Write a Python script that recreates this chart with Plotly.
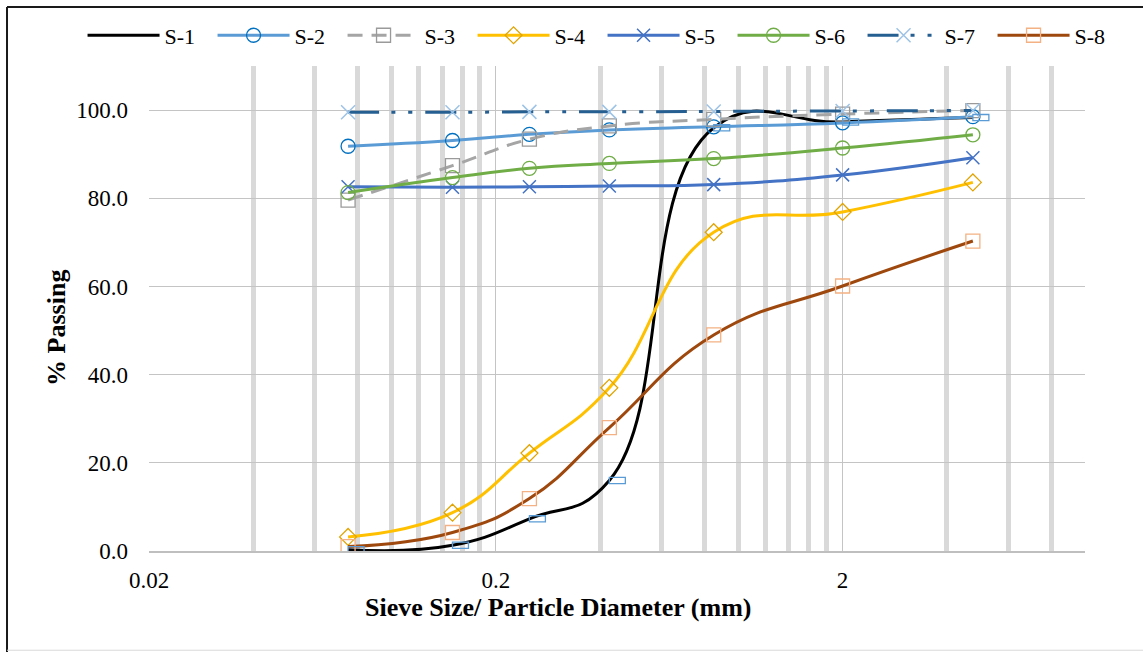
import plotly.graph_objects as go

# Sieve sizes (mm) and % passing for each sample
sieve_mm = [0.075, 0.15, 0.25, 0.425, 0.85, 2.0, 4.75]

s1 = [0.3, 1.3, 7.3, 16.0, 96.0, 97.3, 98.3]
s2 = [91.8, 93.1, 94.5, 95.5, 96.2, 97.1, 98.5]
s3 = [79.6, 87.4, 93.4, 96.4, 97.9, 99.1, 99.9]
s4 = [3.2, 8.7, 22.2, 37.0, 72.3, 76.9, 83.6]
s5 = [82.6, 82.5, 82.6, 82.8, 83.1, 85.3, 89.2]
s6 = [81.3, 84.7, 86.8, 87.9, 89.0, 91.4, 94.4]
s7 = [99.5, 99.5, 99.6, 99.6, 99.7, 99.8, 99.9]
s8 = [1.0, 4.2, 11.9, 28.0, 49.0, 60.1, 70.3]

names = ["S-1", "S-2", "S-3", "S-4", "S-5", "S-6", "S-7", "S-8"]

x_ticks = [0.02, 0.2, 2]
x_tick_text = ["0.02", "0.2", "2"]
x_minor = [0.04, 0.06, 0.08, 0.10, 0.12, 0.14, 0.16, 0.18,
           0.4, 0.6, 0.8, 1.0, 1.2, 1.4, 1.6, 1.8,
           4, 6, 8, 10]
y_ticks = [0, 20, 40, 60, 80, 100]

SERIF = "Liberation Serif, Times New Roman, serif"

styles = {
    "S-1": dict(line=dict(color="#000000", width=3), marker=None),
    "S-2": dict(line=dict(color="#5b9bd5", width=3),
                marker=dict(symbol="circle-open", size=14, color="#0070c0", line=dict(width=1.3))),
    "S-3": dict(line=dict(color="#a5a5a5", width=3, dash="15px,9px"),
                marker=dict(symbol="square-open", size=14, color="#9a9a9a", line=dict(width=1.3))),
    "S-4": dict(line=dict(color="#ffc000", width=3),
                marker=dict(symbol="diamond-open", size=13, color="#e0a300", line=dict(width=1.3))),
    "S-5": dict(line=dict(color="#4472c4", width=3),
                marker=dict(symbol="x-thin-open", size=13, color="#4472c4", line=dict(width=1.5))),
    "S-6": dict(line=dict(color="#70ad47", width=3),
                marker=dict(symbol="circle-open", size=14, color="#70ad47", line=dict(width=1.3))),
    "S-7": dict(line=dict(color="#255e91", width=3, dash="31px,12px,4px,13px,4px,13px"),
                marker=dict(symbol="x-thin-open", size=14, color="#9dc3e6", line=dict(width=1.5))),
    "S-8": dict(line=dict(color="#9e480e", width=3),
                marker=dict(symbol="square-open", size=14, color="#f4b183", line=dict(width=1.3))),
}

fig = go.Figure()
for name, vals in zip(names, [s1, s2, s3, s4, s5, s6, s7, s8]):
    st = styles[name]
    line = dict(st["line"], shape="spline", smoothing=1.3)
    if st["marker"] is None:
        fig.add_trace(go.Scatter(x=sieve_mm, y=vals, name=name, mode="lines", line=line))
    else:
        fig.add_trace(go.Scatter(x=sieve_mm, y=vals, name=name, mode="lines+markers",
                                 line=line, marker=st["marker"]))

# S-1 uses dash-style markers, drawn as small outlined bars starting at each point
dash_len = 10 ** (16 / 347)
for xv, yv in zip(sieve_mm, s1):
    fig.add_shape(type="rect", xref="x", yref="y",
                  x0=xv, x1=xv * dash_len, y0=yv - 0.7, y1=yv + 0.7,
                  line=dict(color="#5b9bd5", width=1.3), fillcolor="rgba(0,0,0,0)")

# chart frame
fig.add_shape(type="line", xref="paper", yref="paper", x0=-0.1517, x1=-0.1517, y0=-0.21, y1=1.1216,
              line=dict(color="#1a1a1a", width=2))
fig.add_shape(type="line", xref="paper", yref="paper", x0=-0.1517, x1=1.07, y0=1.1216, y1=1.1216,
              line=dict(color="#1a1a1a", width=2))
fig.add_shape(type="line", xref="paper", yref="paper", x0=-0.1517, x1=1.07, y0=-0.2046, y1=-0.2046,
              line=dict(color="#d9d9d9", width=1))

fig.add_annotation(text="<b>% Passing</b>", xref="paper", yref="paper", x=-0.0983, y=0.46,
                   xanchor="center", yanchor="middle",
                   textangle=-90, showarrow=False, font=dict(family=SERIF, size=26, color="#000"))
fig.add_annotation(text="<b>Sieve Size/ Particle Diameter (mm)</b>", xref="paper", yref="paper",
                   x=0.437, y=-0.1175, xanchor="center", yanchor="middle",
                   showarrow=False, font=dict(family=SERIF, size=26, color="#000"))

fig.update_layout(
    width=1143, height=652,
    margin=dict(l=149, r=58, t=66, b=101),
    paper_bgcolor="white", plot_bgcolor="white",
    font=dict(family=SERIF, size=21, color="#000"),
    showlegend=True,
    legend=dict(orientation="h", x=-0.071, xanchor="left", y=1.063, yanchor="middle",
                font=dict(family=SERIF, size=22, color="#000"), itemwidth=72,
                entrywidth=43, entrywidthmode="pixels",
                bgcolor="rgba(0,0,0,0)"),
    xaxis=dict(type="log", range=[-1.69897, 1.0], tickvals=x_ticks, ticktext=x_tick_text,
               showgrid=True, gridcolor="#c4c4c4", gridwidth=1.2,
               minor=dict(tickmode="array", tickvals=x_minor, showgrid=True,
                          gridcolor="#d9d9d9", gridwidth=4.5, ticks=""),
               showline=True, linecolor="#bfbfbf", linewidth=1.5,
               ticks="", ticklabelstandoff=8, zeroline=False,
               tickfont=dict(family=SERIF, size=23)),
    yaxis=dict(range=[0, 110], tickvals=y_ticks, tickformat=".1f",
               showgrid=True, gridcolor="#c4c4c4", gridwidth=1.2,
               zeroline=False, showline=False, ticks="", ticklabelstandoff=20,
               tickfont=dict(family=SERIF, size=23)),
)

fig.write_html("out.html")
